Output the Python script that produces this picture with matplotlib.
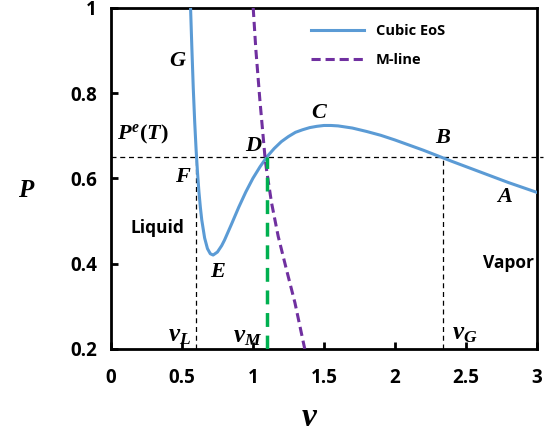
import numpy as np
import matplotlib
matplotlib.use('Agg')
import matplotlib.pyplot as plt

plt.rcParams['mathtext.fontset'] = 'custom'
plt.rcParams['mathtext.it'] = 'Liberation Serif:italic:bold'
plt.rcParams['mathtext.rm'] = 'Liberation Serif:bold'
plt.rcParams['mathtext.bf'] = 'Liberation Serif:bold'

SANS = 'Open Sans'

# cubic EoS isotherm
v_eos = [0.561, 0.57, 0.58, 0.59, 0.60, 0.61, 0.62, 0.63, 0.64, 0.66, 0.68, 0.70, 0.72, 0.75,
         0.78, 0.80, 0.85, 0.90, 0.95, 1.0, 1.05, 1.1, 1.15, 1.2, 1.25, 1.3, 1.35, 1.4, 1.45,
         1.5, 1.55, 1.6, 1.7, 1.8, 1.9, 2.0, 2.2, 2.4, 2.6, 2.8, 3.0]
p_eos = [1.0, 0.907, 0.812, 0.733, 0.667, 0.613, 0.568, 0.532, 0.502, 0.460, 0.435, 0.423,
         0.420, 0.427, 0.442, 0.455, 0.493, 0.532, 0.568, 0.600, 0.627, 0.651, 0.670, 0.686,
         0.698, 0.708, 0.714, 0.719, 0.722, 0.724, 0.724, 0.723, 0.718, 0.710, 0.701, 0.690,
         0.666, 0.640, 0.615, 0.590, 0.567]

# M-line
v_m = [1.002, 1.021, 1.049, 1.085, 1.096, 1.131, 1.178, 1.237, 1.296, 1.354, 1.365]
p_m = [1.0, 0.901, 0.784, 0.650, 0.620, 0.543, 0.464, 0.385, 0.308, 0.217, 0.2]

p_sat = 0.65
v_L, v_M, v_G = 0.60, 1.10, 2.34

xticks = [0, 0.5, 1, 1.5, 2, 2.5, 3]
xticklabels = ['0', '0.5', '1', '1.5', '2', '2.5', '3']
yticks = [0.2, 0.4, 0.6, 0.8, 1]
yticklabels = ['0.2', '0.4', '0.6', '0.8', '1']

fig = plt.figure(figsize=(5.49, 4.36), dpi=100)
ax = fig.add_axes([0.202, 0.2, 0.776, 0.782])

ax.plot(v_eos, p_eos, color='#5B9BD5', lw=2.2, label='Cubic EoS', zorder=3)
ax.plot(v_m, p_m, color='#7030A0', lw=2.2, ls=(0, (3, 1.6)), label='M-line', zorder=3)

ax.plot([0, 3.04], [p_sat, p_sat], color='black', lw=0.9, ls=(0, (4, 3)), clip_on=False, zorder=2)
ax.plot([v_L, v_L], [0.2, p_sat], color='black', lw=0.9, ls=(0, (4, 3)), zorder=2)
ax.plot([v_G, v_G], [0.2, p_sat], color='black', lw=0.9, ls=(0, (4, 3)), zorder=2)
ax.plot([v_M, v_M], [0.2, p_sat], color='#00B050', lw=2.5, ls=(0, (4, 2.5)), zorder=4)

ax.set_xlim(0, 3)
ax.set_ylim(0.2, 1)
ax.set_xticks(xticks)
ax.set_xticklabels(xticklabels)
ax.set_yticks(yticks)
ax.set_yticklabels(yticklabels)
for s in ax.spines.values():
    s.set_linewidth(2)
ax.tick_params(direction='in', length=5, width=2)
ax.tick_params(axis='x', pad=14)
ax.tick_params(axis='y', pad=10)
for lab in ax.get_xticklabels() + ax.get_yticklabels():
    lab.set_fontfamily(SANS)
    lab.set_fontweight('bold')
    lab.set_fontsize(13.5)

mfs = 16
ax.text(0.47, 0.878, r'$G$', fontsize=mfs, ha='center', va='center')
ax.text(0.04, 0.702, r'$P^{e}(T)$', fontsize=mfs, ha='left', va='center')
ax.text(1.01, 0.679, r'$D$', fontsize=mfs, ha='center', va='center')
ax.text(0.51, 0.606, r'$F$', fontsize=mfs, ha='center', va='center')
ax.text(1.47, 0.756, r'$C$', fontsize=mfs, ha='center', va='center')
ax.text(2.34, 0.698, r'$B$', fontsize=mfs, ha='center', va='center')
ax.text(2.77, 0.559, r'$A$', fontsize=mfs, ha='center', va='center')
ax.text(0.755, 0.383, r'$E$', fontsize=mfs, ha='center', va='center')
ax.text(0.486, 0.232, r'$v_{L}$', fontsize=mfs + 2, ha='center', va='center')
ax.text(0.965, 0.230, r'$v_{M}$', fontsize=mfs + 2, ha='center', va='center')
ax.text(2.49, 0.237, r'$v_{G}$', fontsize=mfs + 2, ha='center', va='center')

ax.text(0.33, 0.484, 'Liquid', fontsize=12.5, fontfamily=SANS, fontweight='bold', ha='center', va='center')
ax.text(2.8, 0.402, 'Vapor', fontsize=12.5, fontfamily=SANS, fontweight='bold', ha='center', va='center')

fig.text(27 / 549, 1 - 190 / 436, r'$P$', fontsize=18, ha='center', va='center')
fig.text(310 / 549, 1 - 416 / 436, r'$v$', fontsize=24, ha='center', va='center')

leg = ax.legend(loc='upper left', bbox_to_anchor=(0.44, 0.99), frameon=False,
                handlelength=3.6, labelspacing=1.0, prop={'family': SANS, 'weight': 'bold', 'size': 10.5})

fig.savefig('out.png', dpi=100)
